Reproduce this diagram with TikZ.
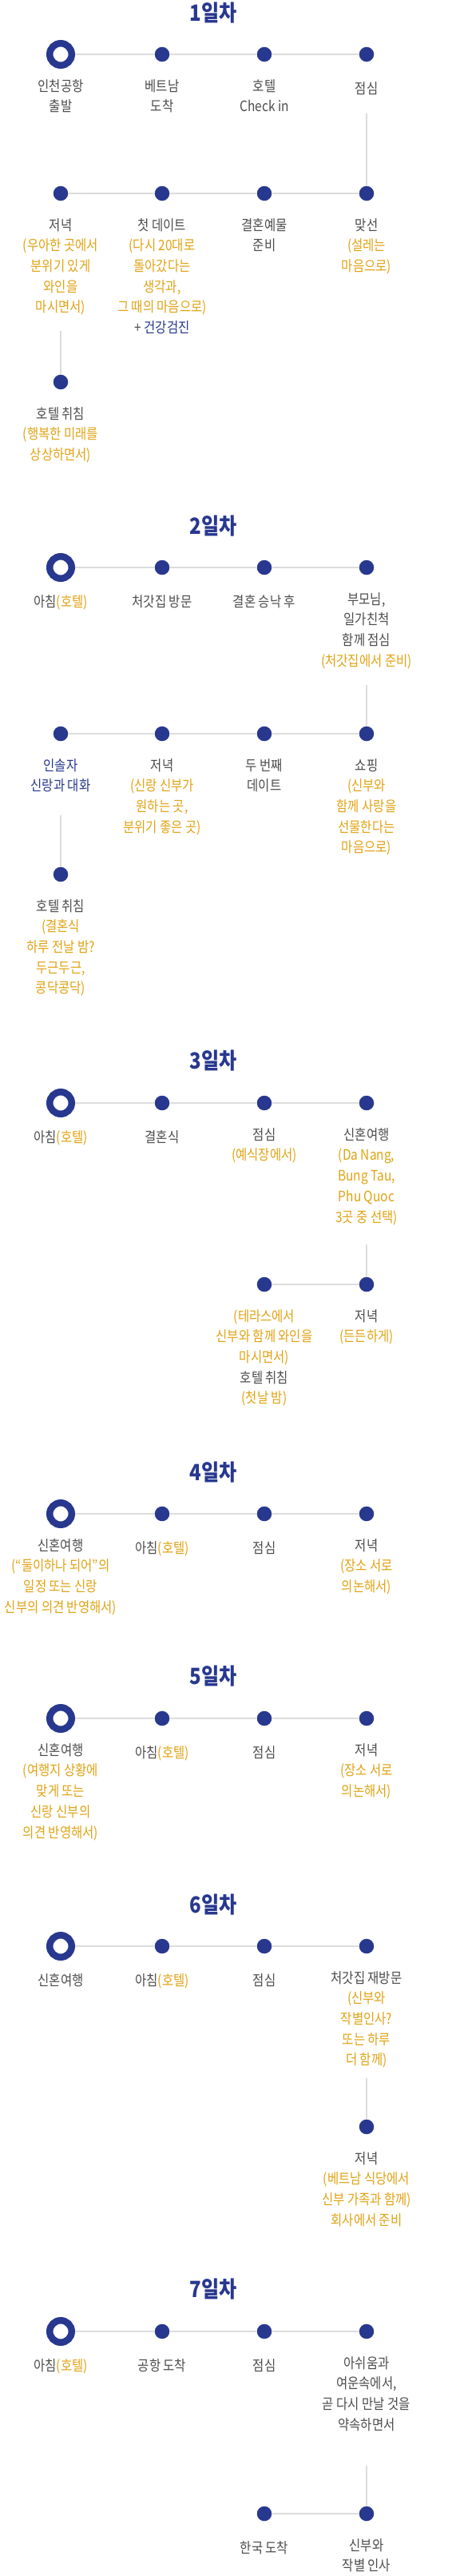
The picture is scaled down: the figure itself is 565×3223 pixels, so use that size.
\documentclass[tikz,border=0pt]{standalone}
\usepackage{fontspec}
\setmainfont{Noto Sans CJK KR}[FakeStretch=0.86]
\usepackage{xcolor}
\usetikzlibrary{positioning, calc}

\definecolor{navy}{RGB}{40,56,143}
\definecolor{gold}{RGB}{225,163,20}
\definecolor{txtgray}{RGB}{77,77,77}
\definecolor{linegray}{RGB}{220,220,220}

\newcommand{\goldtx}[1]{\textcolor{gold}{#1}}
\newcommand{\navytx}[1]{\textcolor{navy}{#1}}

\begin{document}
\begin{tikzpicture}[x=1pt, y=-1pt,
  dot/.style={circle, fill=navy, inner sep=0pt, minimum size=18.5pt},
  startdot/.style={circle, draw=navy, fill=white, line width=8.5pt, inner sep=0pt, minimum size=27.5pt},
  link/.style={draw=linegray, line width=2pt},
  lbl/.style={anchor=north, align=center, text=txtgray, inner sep=0pt, font=\fontsize{18}{25.7}\selectfont, execute at begin node=\strut},
  daytitle/.style={anchor=base, text=navy, inner sep=0pt, font=\fontsize{28}{30}\selectfont\bfseries}]

\useasboundingbox (0,0) rectangle (565,3223);
\fill[white] (0,0) rectangle (565,3223);

% 1일차
\node[daytitle] (t1) at (267,26) {1일차};
\node[startdot] (a1) at (76,68) {};
\node[dot] (a2) at (203,68) {};
\node[dot] (a3) at (331,68) {};
\node[dot] (a4) at (459,68) {};
\node[dot] (a5) at (76,242) {};
\node[dot] (a6) at (203,242) {};
\node[dot] (a7) at (331,242) {};
\node[dot] (a8) at (459,242) {};
\node[dot] (a9) at (76,478) {};
\coordinate (ua) at (459,142);
\coordinate (va) at (76,414);
\draw[link] (a1) -- (a2);
\draw[link] (a2) -- (a3);
\draw[link] (a3) -- (a4);
\draw[link] (ua) -- (a8);
\draw[link] (a5) -- (a6);
\draw[link] (a6) -- (a7);
\draw[link] (a7) -- (a8);
\draw[link] (va) -- (a9);
\node[lbl] (la1) at ($(a1)+(0,31)$) {인천공항\\출발};
\node[lbl] (la2) at ($(a2)+(0,31)$) {베트남\\도착};
\node[lbl] (la3) at ($(a3)+(0,31)$) {호텔\\Check in};
\node[lbl] (la4) at ($(a4)+(0,31)$) {점심};
\node[lbl] (la5) at ($(a5)+(0,31)$) {저녁\\\goldtx{(우아한 곳에서}\\\goldtx{분위기 있게}\\\goldtx{와인을}\\\goldtx{마시면서)}};
\node[lbl] (la6) at ($(a6)+(0,31)$) {첫 데이트\\\goldtx{(다시 20대로}\\\goldtx{돌아갔다는}\\\goldtx{생각과,}\\\goldtx{그 때의 마음으로)}\\+ \navytx{건강검진}};
\node[lbl] (la7) at ($(a7)+(0,31)$) {결혼예물\\준비};
\node[lbl] (la8) at ($(a8)+(0,31)$) {맞선\\\goldtx{(설레는}\\\goldtx{마음으로)}};
\node[lbl] (la9) at ($(a9)+(0,31)$) {호텔 취침\\\goldtx{(행복한 미래를}\\\goldtx{상상하면서)}};

% 2일차
\node[daytitle] (t2) at (267,668) {2일차};
\node[startdot] (b1) at (76,710) {};
\node[dot] (b2) at (203,710) {};
\node[dot] (b3) at (331,710) {};
\node[dot] (b4) at (459,710) {};
\node[dot] (b5) at (76,918) {};
\node[dot] (b6) at (203,918) {};
\node[dot] (b7) at (331,918) {};
\node[dot] (b8) at (459,918) {};
\node[dot] (b9) at (76,1094) {};
\coordinate (ub) at (459,857);
\coordinate (vb) at (76,1020);
\draw[link] (b1) -- (b2);
\draw[link] (b2) -- (b3);
\draw[link] (b3) -- (b4);
\draw[link] (ub) -- (b8);
\draw[link] (b5) -- (b6);
\draw[link] (b6) -- (b7);
\draw[link] (b7) -- (b8);
\draw[link] (vb) -- (b9);
\node[lbl] (lb1) at ($(b1)+(0,31)$) {아침\goldtx{(호텔)}};
\node[lbl] (lb2) at ($(b2)+(0,31)$) {처갓집 방문};
\node[lbl] (lb3) at ($(b3)+(0,31)$) {결혼 승낙 후};
\node[lbl] (lb4) at ($(b4)+(0,31)$) {부모님,\\일가친척\\함께 점심\\\goldtx{(처갓집에서 준비)}};
\node[lbl] (lb5) at ($(b5)+(0,31)$) {\navytx{인솔자}\\\navytx{신랑과 대화}};
\node[lbl] (lb6) at ($(b6)+(0,31)$) {저녁\\\goldtx{(신랑 신부가}\\\goldtx{원하는 곳,}\\\goldtx{분위기 좋은 곳)}};
\node[lbl] (lb7) at ($(b7)+(0,31)$) {두 번째\\데이트};
\node[lbl] (lb8) at ($(b8)+(0,31)$) {쇼핑\\\goldtx{(신부와}\\\goldtx{함께 사랑을}\\\goldtx{선물한다는}\\\goldtx{마음으로)}};
\node[lbl] (lb9) at ($(b9)+(0,31)$) {호텔 취침\\\goldtx{(결혼식}\\\goldtx{하루 전날 밤?}\\\goldtx{두근두근,}\\\goldtx{콩닥콩닥)}};

% 3일차
\node[daytitle] (t3) at (267,1337) {3일차};
\node[startdot] (c1) at (76,1380) {};
\node[dot] (c2) at (203,1380) {};
\node[dot] (c3) at (331,1380) {};
\node[dot] (c4) at (459,1380) {};
\node[dot] (c5) at (331,1607) {};
\node[dot] (c6) at (459,1607) {};
\coordinate (uc) at (459,1557);
\draw[link] (c1) -- (c2);
\draw[link] (c2) -- (c3);
\draw[link] (c3) -- (c4);
\draw[link] (uc) -- (c6);
\draw[link] (c5) -- (c6);
\node[lbl] (lc1) at ($(c1)+(0,31)$) {아침\goldtx{(호텔)}};
\node[lbl] (lc2) at ($(c2)+(0,31)$) {결혼식};
\node[lbl] (lc3) at ($(c3)+(0,31)$) {점심\\\goldtx{(예식장에서)}};
\node[lbl] (lc4) at ($(c4)+(0,31)$) {신혼여행\\\goldtx{(Da Nang,}\\\goldtx{Bung Tau,}\\\goldtx{Phu Quoc}\\\goldtx{3곳 중 선택)}};
\node[lbl] (lc5) at ($(c5)+(0,31)$) {\goldtx{(테라스에서}\\\goldtx{신부와 함께 와인을}\\\goldtx{마시면서)}\\호텔 취침\\\goldtx{(첫날 밤)}};
\node[lbl] (lc6) at ($(c6)+(0,31)$) {저녁\\\goldtx{(든든하게)}};

% 4일차
\node[daytitle] (t4) at (267,1852) {4일차};
\node[startdot] (d1) at (76,1894) {};
\node[dot] (d2) at (203,1894) {};
\node[dot] (d3) at (331,1894) {};
\node[dot] (d4) at (459,1894) {};
\draw[link] (d1) -- (d2);
\draw[link] (d2) -- (d3);
\draw[link] (d3) -- (d4);
\node[lbl] (ld1) at ($(d1)+(0,31)$) {신혼여행\\\goldtx{(“둘이하나 되어”의}\\\goldtx{일정 또는 신랑}\\\goldtx{신부의 의견 반영해서)}};
\node[lbl] (ld2) at ($(d2)+(0,31)$) {아침\goldtx{(호텔)}};
\node[lbl] (ld3) at ($(d3)+(0,31)$) {점심};
\node[lbl] (ld4) at ($(d4)+(0,31)$) {저녁\\\goldtx{(장소 서로}\\\goldtx{의논해서)}};

% 5일차
\node[daytitle] (t5) at (267,2107) {5일차};
\node[startdot] (e1) at (76,2150) {};
\node[dot] (e2) at (203,2150) {};
\node[dot] (e3) at (331,2150) {};
\node[dot] (e4) at (459,2150) {};
\draw[link] (e1) -- (e2);
\draw[link] (e2) -- (e3);
\draw[link] (e3) -- (e4);
\node[lbl] (le1) at ($(e1)+(0,31)$) {신혼여행\\\goldtx{(여행지 상황에}\\\goldtx{맞게 또는}\\\goldtx{신랑 신부의}\\\goldtx{의견 반영해서)}};
\node[lbl] (le2) at ($(e2)+(0,31)$) {아침\goldtx{(호텔)}};
\node[lbl] (le3) at ($(e3)+(0,31)$) {점심};
\node[lbl] (le4) at ($(e4)+(0,31)$) {저녁\\\goldtx{(장소 서로}\\\goldtx{의논해서)}};

% 6일차
\node[daytitle] (t6) at (267,2393) {6일차};
\node[startdot] (f1) at (76,2435) {};
\node[dot] (f2) at (203,2435) {};
\node[dot] (f3) at (331,2435) {};
\node[dot] (f4) at (459,2435) {};
\node[dot] (f5) at (459,2661) {};
\coordinate (uf) at (459,2600);
\draw[link] (f1) -- (f2);
\draw[link] (f2) -- (f3);
\draw[link] (f3) -- (f4);
\draw[link] (uf) -- (f5);
\node[lbl] (lf1) at ($(f1)+(0,31)$) {신혼여행};
\node[lbl] (lf2) at ($(f2)+(0,31)$) {아침\goldtx{(호텔)}};
\node[lbl] (lf3) at ($(f3)+(0,31)$) {점심};
\node[lbl] (lf4) at ($(f4)+(0,31)$) {처갓집 재방문\\\goldtx{(신부와}\\\goldtx{작별인사?}\\\goldtx{또는 하루}\\\goldtx{더 함께)}};
\node[lbl] (lf5) at ($(f5)+(0,31)$) {저녁\\\goldtx{(베트남 식당에서}\\\goldtx{신부 가족과 함께)}\\\goldtx{회사에서 준비}};

% 7일차
\node[daytitle] (t7) at (267,2874) {7일차};
\node[startdot] (g1) at (76,2917) {};
\node[dot] (g2) at (203,2917) {};
\node[dot] (g3) at (331,2917) {};
\node[dot] (g4) at (459,2917) {};
\node[dot] (g5) at (331,3145) {};
\node[dot] (g6) at (459,3145) {};
\coordinate (ug) at (459,3085);
\draw[link] (g1) -- (g2);
\draw[link] (g2) -- (g3);
\draw[link] (g3) -- (g4);
\draw[link] (ug) -- (g6);
\draw[link] (g5) -- (g6);
\node[lbl] (lg1) at ($(g1)+(0,31)$) {아침\goldtx{(호텔)}};
\node[lbl] (lg2) at ($(g2)+(0,31)$) {공항 도착};
\node[lbl] (lg3) at ($(g3)+(0,31)$) {점심};
\node[lbl] (lg4) at ($(g4)+(0,31)$) {아쉬움과\\여운속에서,\\곧 다시 만날 것을\\약속하면서};
\node[lbl] (lg5) at ($(g5)+(0,31)$) {한국 도착};
\node[lbl] (lg6) at ($(g6)+(0,31)$) {신부와\\작별 인사};
\end{tikzpicture}
\end{document}
